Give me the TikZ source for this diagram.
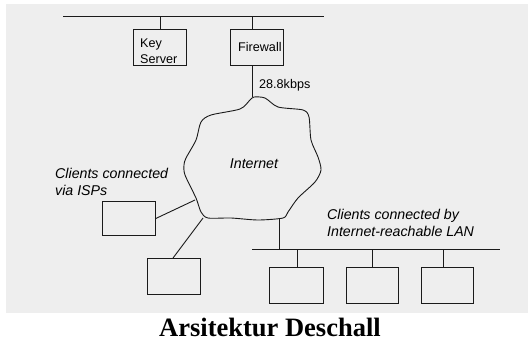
\documentclass[tikz,border=0pt]{standalone}
\usepackage{fontspec}
\setmainfont{Liberation Serif}
\setsansfont{Liberation Sans}
\definecolor{bggray}{HTML}{EEEEEE}
\definecolor{ink}{HTML}{1A1A1A}
\begin{document}
\begin{tikzpicture}[x=1pt,y=-1pt,
  wire/.style={draw=ink,line width=0.9pt},
  hostbox/.style={draw=ink,line width=0.9pt,minimum width=53pt,minimum height=36pt,inner sep=0pt,anchor=north west},
  boxtext/.style={font=\sffamily\fontsize{12.6}{16}\selectfont,inner sep=0pt},
  itlabel/.style={font=\sffamily\itshape\fontsize{14.2}{17}\selectfont,inner sep=0pt,align=left}]
\useasboundingbox (0,0) rectangle (528,346);
\fill[bggray] (6,4) rectangle (528,313);
% top LAN
\coordinate (busL) at (63,16);
\coordinate (busR) at (324,16);
\draw[wire] (busL) -- (busR);
\node[hostbox] (key) at (133,29) {};
\node[hostbox] (fw) at (230,29) {};
\node[boxtext,anchor=north west,align=left] (keytext) at (140,39) {Key\\Server};
\node[boxtext,anchor=base west] (fwtext) at (238,51) {Firewall};
\draw[wire] (key.north) -- (key.north |- busL);
\draw[wire] (252,29) -- (252,16);
% cloud
\draw[ink,line width=0.9pt] plot[smooth cycle,tension=0.45] coordinates {
 (254,97) (265,98) (278,107) (303,110) (309,117) (311,140) (318,157) (321,170)
 (315,182) (298,198) (288,212) (283,218) (258,220) (231,218) (208,218) (201,212)
 (196,198) (185,175) (184,165) (186,158) (196,140) (201,122) (211,115) (240,109) (250,100)};
\coordinate (cltop) at (252,97);
\coordinate (clleft) at (195,200);
\coordinate (clbl) at (203,218);
\coordinate (clbot) at (279,219);
\node[font=\sffamily\itshape\fontsize{14.2}{16}\selectfont,inner sep=0pt,anchor=base] (inet) at (254,168) {Internet};
\draw[wire] (fw.south -| cltop) -- (cltop);
\node[boxtext,anchor=base west] (speed) at (259,88) {28.8kbps};
% ISP clients
\node[itlabel,anchor=north west] (isplabel) at (55,168) {Clients connected\\via ISPs};
\node[hostbox,minimum height=34pt] (isp1) at (102,201) {};
\node[hostbox] (isp2) at (147,258) {};
\draw[wire] (isp1.east) -- (clleft);
\draw[wire] (173,258) -- (clbl);
% LAN clients
\node[itlabel,anchor=north west] (lanlabel) at (327,209) {Clients connected by\\Internet-reachable LAN};
\coordinate (lanL) at (252,249);
\coordinate (lanR) at (500,249);
\draw[wire] (lanL) -- (lanR);
\draw[wire] (clbot) -- (clbot |- lanL);
\node[hostbox,minimum width=54pt] (c1) at (269,267) {};
\node[hostbox,minimum width=52pt] (c2) at (346,267) {};
\node[hostbox,minimum width=52pt] (c3) at (421,267) {};
\draw[wire] (297,267) -- (297,249);
\draw[wire] (372,267) -- (372,249);
\draw[wire] (443,267) -- (443,249);
% title
\node[font=\bfseries\fontsize{26.5}{30}\selectfont,inner sep=0pt,anchor=base] (title) at (270,336) {Arsitektur Deschall};
\end{tikzpicture}
\end{document}
